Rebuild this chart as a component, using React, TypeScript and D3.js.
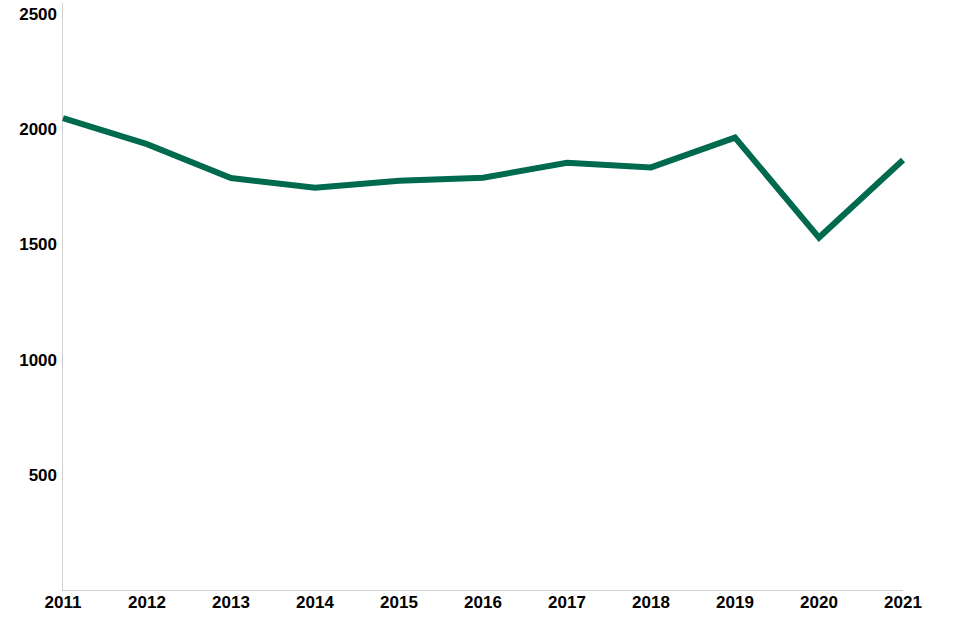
import React from "react";
import * as d3 from "d3";

const years = [2011, 2012, 2013, 2014, 2015, 2016, 2017, 2018, 2019, 2020, 2021];
const values = [2045, 1932, 1785, 1743, 1773, 1786, 1851, 1831, 1960, 1527, 1863];
const yTicks = [500, 1000, 1500, 2000, 2500];

export default function App() {
  const width = 960;
  const height = 640;
  const x = d3.scalePoint<number>().domain(years).range([63, 903]);
  const y = d3.scaleLinear().domain([0, 2500]).range([590, 13]);
  const line = d3
    .line<number>()
    .x((_, i) => x(years[i]) as number)
    .y((d) => y(d));
  const font = "'Liberation Sans', Arial, Helvetica, sans-serif";
  return (
    <svg
      width={width}
      height={height}
      style={{ position: "absolute", left: 0, top: 0, background: "#fff" }}
    >
      <line x1={62.5} x2={62.5} y1={3} y2={590} stroke="#d0d0d0" strokeWidth={1} />
      <line x1={62} x2={903} y1={590.5} y2={590.5} stroke="#d0d0d0" strokeWidth={1} />
      {yTicks.map((t) => (
        <text
          key={t}
          x={57}
          y={y(t) + 6.5}
          textAnchor="end"
          fontFamily={font}
          fontWeight="bold"
          fontSize={17}
          fill="#000"
        >
          {t}
        </text>
      ))}
      {years.map((yr) => (
        <text
          key={yr}
          x={x(yr)}
          y={608}
          textAnchor="middle"
          fontFamily={font}
          fontWeight="bold"
          fontSize={17}
          fill="#000"
        >
          {yr}
        </text>
      ))}
      <path
        d={line(values) || ""}
        fill="none"
        stroke="#006a4f"
        strokeWidth={6}
        strokeLinejoin="miter"
        strokeLinecap="butt"
      />
    </svg>
  );
}
